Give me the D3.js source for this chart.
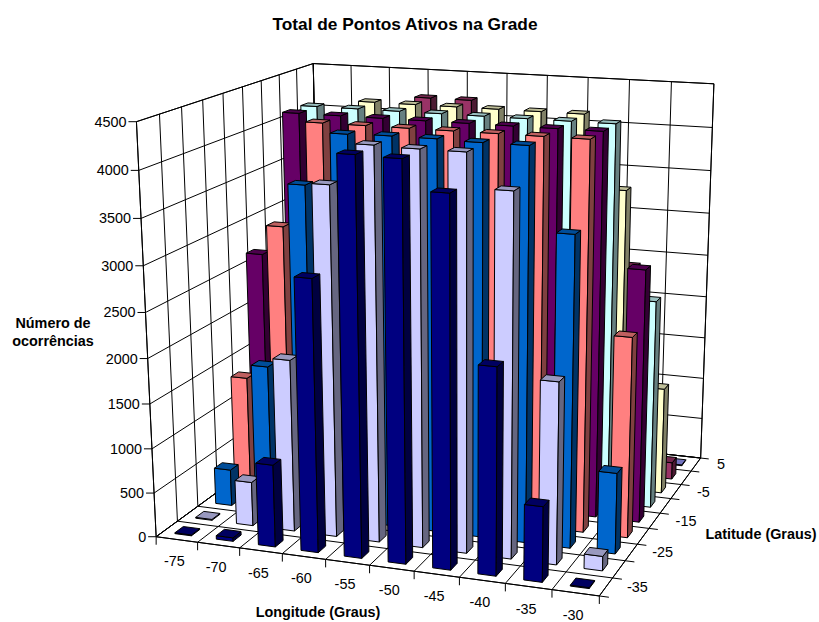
<!DOCTYPE html>
<html>
<head>
<meta charset="utf-8">
<script src="https://cdn.jsdelivr.net/npm/d3@7/dist/d3.min.js"></script>
<style>
html,body{margin:0;padding:0;background:#fff}
svg{display:block}
text{font-family:"Liberation Sans",Arial,sans-serif;fill:#000}
</style>
</head>
<body>
<svg id="chart" width="819" height="622"></svg>
<script>
// Longitudes along the front edge, latitudes from the front row to the back row
const longitudes = [-75,-70,-65,-60,-55,-50,-45,-40,-35,-30];
const latitudes = [-35,-30,-25,-20,-15,-10,-5,0,5];
const latitudeLabels = [-35,-25,-15,-5,5];

// Active grid points per latitude, one value per longitude
const latS35 = [10,40,920,2980,4280,4270,3960,2240,820,10];
const latS30 = [10,500,1930,3850,4290,4280,4280,3920,1990,160];
const latS25 = [420,1670,3720,4290,4300,4300,4290,4290,3410,900];
const latS20 = [1350,3130,4300,4300,4300,4300,4300,4300,4300,2240];
const latS15 = [2670,4300,4300,4300,4300,4300,4300,4300,4300,2850];
const latS10 = [2000,4300,4300,4300,4300,4300,4300,4300,4300,2380];
const latS05 = [1000,3300,4300,4300,4300,4300,4300,4300,3480,1240];
const latZero = [500,2500,3700,4300,4300,4000,3400,3400,2500,200];
const latN05 = [300,1500,2800,3400,3500,3300,3000,2500,1500,10];
const rows = [latS35,latS30,latS25,latS20,latS15,latS10,latS05,latZero,latN05];
const rowColors = ["#000080","#CCCCFF","#0066CC","#FF8080","#660066","#CCFFFF","#FFFFCC","#993366","#9999FF"];

const maxValue = 4500;
const titleText = "Total de Pontos Ativos na Grade";

// Scales into the unit box: x along longitude, y along latitude, z up
const xBand = d3.scaleBand().domain(longitudes).range([0,1]).paddingInner(0.6).paddingOuter(0.3);
const yBand = d3.scaleBand().domain(latitudes).range([0,1]).paddingInner(0.6).paddingOuter(0.3);
const zScale = d3.scaleLinear().domain([0,maxValue]).range([0,1]);

// Pin the unit box corners to the page and solve the perspective camera by least squares
const calibration = [
  [0,0,0,155,535],[1,0,0,600,597],[1,1,0,700,457],[0,1,0,322,418],
  [0,0,1,137,122.5],[0,1,1,312.7,62.7],[1,1,1,714,84]
];
function solveCamera(pairs){
  const A=[],b=[];
  for(const [x,y,z,u,v] of pairs){
    A.push([x,y,z,1,0,0,0,0,-u*x,-u*y,-u*z]); b.push(u);
    A.push([0,0,0,0,x,y,z,1,-v*x,-v*y,-v*z]); b.push(v);
  }
  const n=11, M=d3.range(n).map(i=>d3.range(n+1).map(j=>{
    let s=0; for(let k=0;k<A.length;k++) s+=A[k][i]*(j<n?A[k][j]:b[k]); return s;
  }));
  for(let c=0;c<n;c++){
    let p=c; for(let r=c+1;r<n;r++) if(Math.abs(M[r][c])>Math.abs(M[p][c])) p=r;
    [M[c],M[p]]=[M[p],M[c]];
    for(let r=0;r<n;r++){ if(r===c) continue;
      const f=M[r][c]/M[c][c];
      for(let j=c;j<=n;j++) M[r][j]-=f*M[c][j];
    }
  }
  return d3.range(n).map(i=>M[i][n]/M[i][i]);
}
const cam = solveCamera(calibration);
function project(x,y,z){
  const w = cam[8]*x+cam[9]*y+cam[10]*z+1;
  return [(cam[0]*x+cam[1]*y+cam[2]*z+cam[3])/w,(cam[4]*x+cam[5]*y+cam[6]*z+cam[7])/w];
}

const svg = d3.select("#chart");
const linePath = d3.line();
const closed = pts => linePath(pts)+"Z";

// Walls and floor
const walls = svg.append("g");
const faces = [
  [[0,0,0],[0,1,0],[0,1,1],[0,0,1]],
  [[0,1,0],[1,1,0],[1,1,1],[0,1,1]],
  [[0,0,0],[1,0,0],[1,1,0],[0,1,0]]
];
walls.selectAll("path.wall").data(faces).join("path").attr("class","wall")
  .attr("d",f=>closed(f.map(p=>project(...p))))
  .attr("fill","#fff").attr("stroke","#000").attr("stroke-width",1);

const xEdges = d3.range(longitudes.length+1).map(i=>i/longitudes.length);
const yEdges = d3.range(latitudes.length+1).map(i=>i/latitudes.length);
const zTicks = zScale.ticks(9);

const segments = [];
xEdges.forEach(x=>{
  segments.push([[x,0,0],[x,1,0]]);
  segments.push([[x,1,0],[x,1,1]]);
});
yEdges.forEach(y=>{
  segments.push([[0,y,0],[1,y,0]]);
  segments.push([[0,y,0],[0,y,1]]);
});
zTicks.forEach(t=>{
  const z=zScale(t);
  segments.push([[0,0,z],[0,1,z]]);
  segments.push([[0,1,z],[1,1,z]]);
});
walls.selectAll("path.grid").data(segments).join("path").attr("class","grid")
  .attr("d",s=>linePath(s.map(p=>project(...p))))
  .attr("fill","none").attr("stroke","#000").attr("stroke-width",1);

// Tick marks
const tickLen = 8;
const ticks = [];
zTicks.forEach(t=>{ const p=project(0,0,zScale(t)); ticks.push([p,[p[0]-tickLen,p[1]]]); });
xEdges.forEach(x=>{ const p=project(x,0,0); ticks.push([p,[p[0],p[1]+tickLen]]); });
yEdges.forEach(y=>{
  const p=project(1,y,0), q=project(1.02,y,0);
  ticks.push([p,q]);
});
walls.selectAll("path.tick").data(ticks).join("path").attr("class","tick")
  .attr("d",linePath).attr("fill","none").attr("stroke","#000").attr("stroke-width",1);

// Columns, painted from the back row forward and left to right
const darken = (c,k)=>{ const r=d3.rgb(c); return d3.rgb(r.r*k,r.g*k,r.b*k).formatHex(); };
const bars = [];
for(let j=latitudes.length-1;j>=0;j--){
  longitudes.forEach((lon,i)=>{
    bars.push({lon,lat:latitudes[j],value:rows[j][i],color:rowColors[j]});
  });
}
const barG = svg.append("g").selectAll("g").data(bars).join("g");
barG.each(function(d){
  const x0=xBand(d.lon), x1=x0+xBand.bandwidth();
  const y0=yBand(d.lat), y1=y0+yBand.bandwidth();
  const z=zScale(d.value);
  const front=[[x0,y0,0],[x1,y0,0],[x1,y0,z],[x0,y0,z]];
  const side=[[x1,y0,0],[x1,y1,0],[x1,y1,z],[x1,y0,z]];
  const top=[[x0,y0,z],[x1,y0,z],[x1,y1,z],[x0,y1,z]];
  const g=d3.select(this);
  [[front,d.color],[side,darken(d.color,0.5)],[top,darken(d.color,0.75)]].forEach(([f,c])=>{
    g.append("path").attr("d",closed(f.map(p=>project(...p))))
      .attr("fill",c).attr("stroke","#000").attr("stroke-width",1).attr("stroke-linejoin","round");
  });
});

// Axis labels
const labels = svg.append("g").attr("font-size",14.4);
labels.selectAll("text.z").data(zTicks).join("text").attr("class","z")
  .attr("x",t=>project(0,0,zScale(t))[0]-10)
  .attr("y",t=>project(0,0,zScale(t))[1]+5)
  .attr("text-anchor","end").text(t=>t);
labels.selectAll("text.x").data(longitudes).join("text").attr("class","x")
  .attr("x",d=>project(xBand(d)+xBand.bandwidth()/2,0,0)[0]-2.5)
  .attr("y",d=>project(xBand(d)+xBand.bandwidth()/2,0,0)[1]+27)
  .attr("text-anchor","middle").text(d=>d);
labels.selectAll("text.y").data(latitudeLabels).join("text").attr("class","y")
  .attr("x",d=>project(1,yBand(d)+yBand.bandwidth()/2,0)[0]+21)
  .attr("y",d=>project(1,yBand(d)+yBand.bandwidth()/2,0)[1]+5)
  .attr("text-anchor","start").text(d=>d);

// Titles
const bold = svg.append("g").attr("font-weight","bold").attr("font-size",14.4).attr("text-anchor","middle");
bold.append("text").attr("x",405).attr("y",30).attr("font-size",17.3).text(titleText);
bold.append("text").attr("x",53).attr("y",328).text("Número de");
bold.append("text").attr("x",53).attr("y",346).text("ocorrências");
bold.append("text").attr("x",761).attr("y",539).text("Latitude (Graus)");
bold.append("text").attr("x",318).attr("y",617).text("Longitude (Graus)");
</script>
</body>
</html>
